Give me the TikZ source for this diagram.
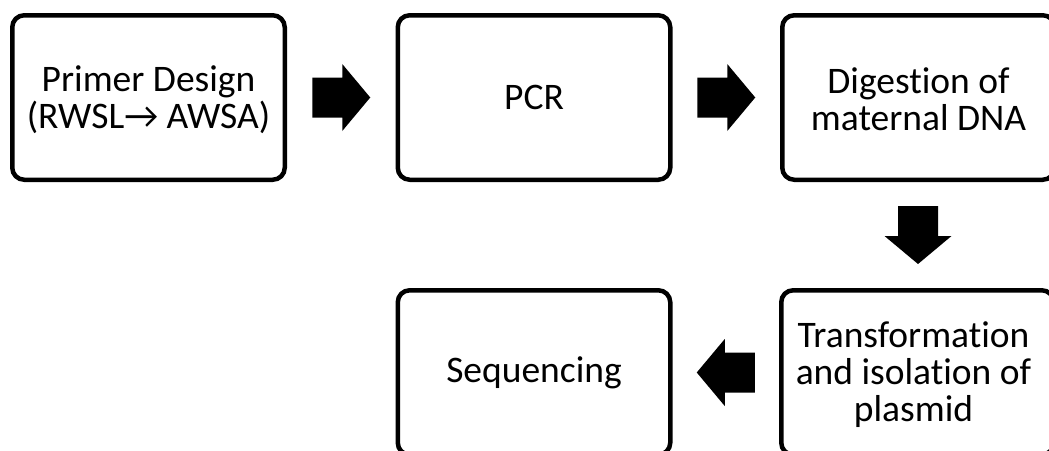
\documentclass[tikz,border=0pt]{standalone}
\usepackage{fontspec}
\setmainfont[Ligatures={NoCommon,NoRequired,NoContextual}]{Carlito}
\usetikzlibrary{calc}
\tikzset{
  x=1pt, y=1pt,
  stepbox/.style={draw=black, line width=4.5pt, rounded corners=12pt,
    minimum width=272.5pt, minimum height=164.5pt, inner sep=0pt},
  steptext/.style={align=center, inner sep=0pt,
    font=\fontsize{37.5}{37}\selectfont},
  blockarrow/.style={fill=black},
}
\newcommand{\bigarrow}[2]{%
  \fill[blockarrow, shift={(#1)}, rotate=#2]
    (-29,20) -- (1,20) -- (1,33.5) -- (29,0) -- (1,-33.5) -- (1,-20) -- (-29,-20) -- cycle;}
\begin{document}
\begin{tikzpicture}
\useasboundingbox (0,0) rectangle (1049,-450);
\clip (0,0) rectangle (1049,-450);
\fill[white] (0,0) rectangle (1049,-450);
\node[stepbox] (b1) at (148.5,-97.5) {};
\node[stepbox] (b2) at (534,-97.5) {};
\node[stepbox] (b3) at (918.5,-97.5) {};
\node[stepbox] (b4) at (917.5,-372.5) {};
\node[stepbox] (b5) at (534,-372.5) {};
\node[steptext] (t1) at ([yshift=-2pt]b1.center) {Primer Design\\(RWSL→ AWSA)};
\node[steptext] (t2) at (b2.center) {PCR};
\node[steptext] (t3) at ([yshift=-2pt]b3.center) {Digestion of\\maternal DNA};
\node[steptext] (t4) at ([xshift=-4pt,yshift=-2pt]b4.center) {Transformation\\and isolation of\\plasmid};
\node[steptext] (t5) at (b5.center) {Sequencing};
\coordinate (a12) at ($(b1.east)!0.5!(b2.west)$);
\coordinate (a23) at ($(b2.east)!0.5!(b3.west)$);
\coordinate (a34) at ($(b3.south)!0.5!(b4.north)$);
\coordinate (a45) at ($(b4.west)!0.5!(b5.east)$);
\bigarrow{a12}{0}
\bigarrow{a23}{0}
\bigarrow{a34}{-90}
\bigarrow{a45}{180}
\end{tikzpicture}
\end{document}
